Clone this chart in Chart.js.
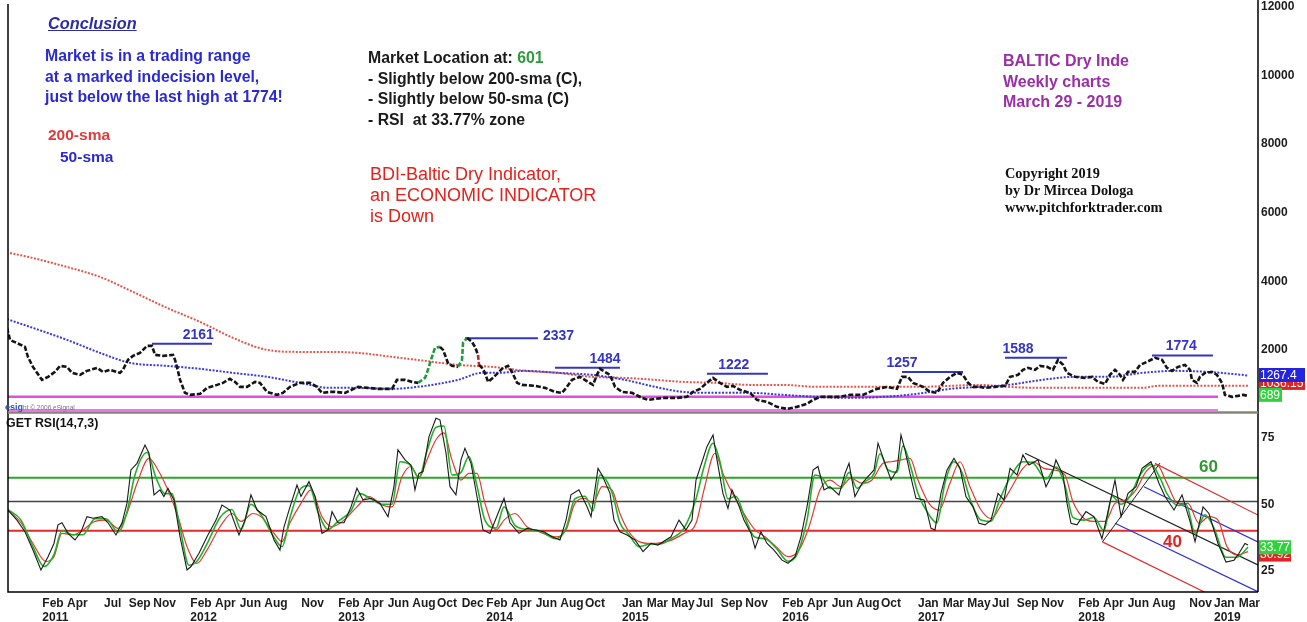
<!DOCTYPE html>
<html>
<head>
<meta charset="utf-8">
<script src="https://cdn.jsdelivr.net/npm/chart.js@4.4.1/dist/chart.umd.min.js"></script>
<style>
  html, body { margin: 0; padding: 0; background: #fff; }
  #wrap { position: relative; width: 1307px; height: 622px; overflow: hidden; background: #fff;
          font-family: "Liberation Sans", Arial, sans-serif; }
  canvas { position: absolute; left: 0; }
  #priceChart { top: 0; }
  #rsiChart { top: 414px; }
  .note { position: absolute; white-space: nowrap; font-weight: bold; font-size: 15.8px; line-height: 20.5px; pointer-events: none; }
</style>
</head>
<body>
<div id="wrap">
  <canvas id="priceChart" width="1307" height="414" style="width:1307px;height:414px"></canvas>
  <canvas id="rsiChart" width="1307" height="208" style="width:1307px;height:208px"></canvas>

  <div class="note" style="left:48px;top:13px;font-size:16.3px;font-style:italic;text-decoration:underline;color:#2c2ca6;line-height:20px;">Conclusion</div>
  <div class="note" style="left:45px;top:46px;color:#2a2ad2;">Market is in a trading range<br>at a marked indecision level,<br>just below the last high at 1774!</div>
  <div class="note" style="left:48px;top:125px;color:#e23a3a;line-height:20px;font-size:15.5px;">200-sma</div>
  <div class="note" style="left:60px;top:147px;color:#2a2ad2;line-height:20px;font-size:15.5px;">50-sma</div>
  <div class="note" style="left:368px;top:48px;color:#1a1a1a;">Market Location at: <span style="color:#2f9a3c">601</span><br>- Slightly below 200-sma (C),<br>- Slightly below 50-sma (C)<br>- RSI&nbsp; at 33.77% zone</div>
  <div class="note" style="left:370px;top:164px;color:#e4221c;font-weight:normal;font-size:18px;line-height:21px;">BDI-Baltic Dry Indicator,<br>an ECONOMIC INDICATOR<br>is Down</div>
  <div class="note" style="left:1003px;top:51px;color:#9a2fa6;font-size:16px;">BALTIC Dry Inde<br>Weekly charts<br>March 29 - 2019</div>
  <div class="note" style="left:1005px;top:165px;font-family:'Liberation Serif','Times New Roman',serif;color:#111;font-size:14.3px;line-height:17px;">Copyright 2019<br>by Dr Mircea Dologa<br>www.pitchforktrader.com</div>
  <div class="note" style="left:5px;top:399px;line-height:12px;"><span style="color:#2a5ab8;font-size:9px;">esig</span><span style="color:#777;font-size:6.5px;font-weight:normal;">ht &copy; 2006 eSignal</span></div>
  <div class="note" style="left:6px;top:415px;font-size:12.4px;line-height:16px;color:#111;">GET RSI(14,7,3)</div>
  <div class="note" style="left:1199px;top:457px;font-size:17px;line-height:20px;color:#2e9a2e;">60</div>
  <div class="note" style="left:1163px;top:532px;font-size:17px;line-height:20px;color:#e02424;">40</div>
</div>

<script>
document.addEventListener("DOMContentLoaded", function () {
	// --- time axis (decimal years) ---
	const X_MIN = 2010.8514;
	const X_MAX = 2019.2973;

	const MONTHS = ["Jan", "Feb", "Mar", "Apr", "May", "Jun", "Jul", "Aug", "Sep", "Oct", "Nov", "Dec"];
	// [year, month] of every label under the RSI panel
	const monthTicks = [
		[2011, 2], [2011, 4], [2011, 7], [2011, 9], [2011, 11],
		[2012, 2], [2012, 4], [2012, 6], [2012, 8], [2012, 11],
		[2013, 2], [2013, 4], [2013, 6], [2013, 8], [2013, 10], [2013, 12],
		[2014, 2], [2014, 4], [2014, 6], [2014, 8], [2014, 10],
		[2015, 1], [2015, 3], [2015, 5], [2015, 7], [2015, 9], [2015, 11],
		[2016, 2], [2016, 4], [2016, 6], [2016, 8], [2016, 10],
		[2017, 1], [2017, 3], [2017, 5], [2017, 7], [2017, 9], [2017, 11],
		[2018, 2], [2018, 4], [2018, 6], [2018, 8], [2018, 11],
		[2019, 1], [2019, 3],
	];
	const priceTicks = [2000, 4000, 6000, 8000, 10000, 12000];
	const rsiTicks = [25, 50, 75];

	// --- BDI weekly close [decimal year, value] ---
	const bdiClose = [
		[2010.845, 2641], [2010.865, 2291], [2010.966, 2087], [2010.986, 1796], [2011.020, 1504], [2011.081, 1125],
		[2011.122, 1213], [2011.169, 1358], [2011.203, 1533], [2011.250, 1504], [2011.284, 1329], [2011.338, 1271],
		[2011.385, 1388], [2011.453, 1475], [2011.493, 1358], [2011.541, 1417], [2011.608, 1329], [2011.628, 1417],
		[2011.662, 1708], [2011.696, 1825], [2011.743, 1912], [2011.791, 2116], [2011.824, 2116], [2011.845, 1854],
		[2011.899, 1825], [2011.966, 1854], [2011.980, 1708], [2011.993, 1504], [2012.014, 1125], [2012.047, 746],
		[2012.081, 688], [2012.149, 717], [2012.196, 892], [2012.264, 979], [2012.304, 1038], [2012.351, 1154],
		[2012.385, 1067], [2012.419, 921], [2012.466, 921], [2012.520, 1067], [2012.554, 1038], [2012.601, 775],
		[2012.669, 688], [2012.709, 746], [2012.757, 921], [2012.824, 1038], [2012.892, 1038], [2012.939, 921],
		[2012.973, 746], [2013.027, 775], [2013.061, 775], [2013.128, 746], [2013.216, 921], [2013.284, 892],
		[2013.351, 863], [2013.446, 863], [2013.480, 1125], [2013.534, 1125], [2013.581, 1067], [2013.622, 1038],
		[2013.669, 1183], [2013.682, 1329], [2013.703, 1621], [2013.736, 2058], [2013.770, 2087], [2013.791, 2000],
		[2013.824, 1621], [2013.851, 1533], [2013.892, 1504], [2013.919, 1708], [2013.926, 2204], [2013.953, 2350],
		[2013.986, 2233], [2014.007, 2087], [2014.027, 1854], [2014.034, 1562], [2014.054, 1475], [2014.074, 1329],
		[2014.095, 1067], [2014.128, 1183], [2014.162, 1329], [2014.196, 1475], [2014.230, 1533], [2014.257, 1358],
		[2014.291, 1038], [2014.324, 979], [2014.412, 950], [2014.480, 892], [2014.547, 775], [2014.595, 746],
		[2014.628, 921], [2014.662, 1125], [2014.716, 1213], [2014.770, 1067], [2014.804, 979], [2014.831, 1271],
		[2014.851, 1446], [2014.885, 1358], [2014.919, 1271], [2014.953, 921], [2015.000, 775], [2015.068, 746],
		[2015.135, 600], [2015.176, 542], [2015.223, 571], [2015.277, 600], [2015.372, 600], [2015.439, 630],
		[2015.480, 775], [2015.527, 863], [2015.574, 1038], [2015.615, 1183], [2015.662, 1038], [2015.709, 921],
		[2015.750, 950], [2015.797, 834], [2015.865, 746], [2015.912, 542], [2015.980, 484], [2016.047, 338],
		[2016.115, 280], [2016.182, 338], [2016.250, 426], [2016.291, 542], [2016.338, 630], [2016.405, 630],
		[2016.473, 630], [2016.541, 688], [2016.628, 688], [2016.723, 863], [2016.791, 921], [2016.858, 863],
		[2016.892, 1213], [2016.932, 1213], [2016.966, 1038], [2017.034, 921], [2017.081, 775], [2017.128, 746],
		[2017.169, 1038], [2017.216, 1213], [2017.264, 1329], [2017.304, 1271], [2017.338, 1038], [2017.372, 921],
		[2017.419, 921], [2017.453, 892], [2017.520, 921], [2017.588, 950], [2017.622, 1213], [2017.676, 1271],
		[2017.709, 1417], [2017.743, 1475], [2017.791, 1417], [2017.824, 1533], [2017.872, 1504], [2017.912, 1417],
		[2017.946, 1708], [2017.980, 1562], [2018.007, 1329], [2018.061, 1213], [2018.128, 1183], [2018.176, 1213],
		[2018.216, 1067], [2018.264, 1009], [2018.297, 1271], [2018.331, 1417], [2018.365, 1271], [2018.385, 1125],
		[2018.419, 1358], [2018.466, 1358], [2018.500, 1562], [2018.547, 1650], [2018.601, 1767], [2018.649, 1708],
		[2018.682, 1475], [2018.716, 1388], [2018.757, 1504], [2018.804, 1562], [2018.838, 1417], [2018.851, 1125],
		[2018.885, 1038], [2018.905, 1213], [2018.939, 1329], [2018.986, 1358], [2019.020, 1271], [2019.054, 1038],
		[2019.074, 688], [2019.122, 630], [2019.162, 659], [2019.196, 688], [2019.230, 659],
	];

	const sma50 = [
		[2010.845, 2896], [2011.020, 2641], [2011.250, 2291], [2011.473, 1912], [2011.676, 1621], [2011.926, 1533],
		[2012.149, 1446], [2012.372, 1329], [2012.601, 1213], [2012.824, 1038], [2013.027, 892], [2013.216, 892],
		[2013.446, 863], [2013.669, 950], [2013.892, 1125], [2014.054, 1329], [2014.162, 1329], [2014.345, 1388],
		[2014.568, 1329], [2014.797, 1271], [2015.020, 1125], [2015.223, 921], [2015.412, 775], [2015.642, 746],
		[2015.865, 746], [2016.088, 688], [2016.318, 630], [2016.541, 600], [2016.764, 630], [2016.993, 717],
		[2017.216, 863], [2017.419, 921], [2017.608, 979], [2017.838, 1125], [2018.061, 1213], [2018.284, 1213],
		[2018.514, 1329], [2018.736, 1388], [2018.959, 1358], [2019.189, 1271], [2019.230, 1250],
	];

	const sma200 = [
		[2010.865, 4824], [2011.020, 4678], [2011.250, 4416], [2011.473, 4128], [2011.696, 3690], [2011.926, 3224],
		[2012.149, 2816], [2012.372, 2350], [2012.601, 2000], [2012.824, 1941], [2013.027, 1941], [2013.216, 1912],
		[2013.446, 1796], [2013.669, 1679], [2013.892, 1562], [2014.122, 1504], [2014.345, 1388], [2014.568, 1329],
		[2014.797, 1213], [2015.020, 1183], [2015.223, 1125], [2015.412, 1067], [2015.642, 1038], [2015.865, 979],
		[2016.088, 979], [2016.318, 921], [2016.541, 921], [2016.764, 921], [2016.993, 921], [2017.216, 950],
		[2017.419, 979], [2017.608, 921], [2017.838, 892], [2018.061, 892], [2018.284, 892], [2018.514, 892],
		[2018.622, 950], [2018.959, 950], [2019.230, 950],
	];

	// marked highs: blue horizontal lines with their values
	const highTexts = ["2161", "2337", "1484", "1222", "1257", "1588", "1774"];
	const highLevels = [2175, 2341, 1475, 1300, 1358, 1767, 1834];
	const highStarts = [2011.824, 2013.939, 2014.547, 2015.574, 2016.892, 2017.588, 2018.581];
	const highEnds = [2012.230, 2014.432, 2014.986, 2015.986, 2017.304, 2018.007, 2018.993];

	// magenta support lines
	const supportLevels = [630, 250];
	const supportEnd = 2019.027;

	// right-hand value tags
	const priceTagValues = [1036, 1267.4, 689];
	const priceTagTexts = ["1036.15", "1267.4", "689"];

	// --- RSI panel ---
	const rsiLine = [
		[2010.851, 47.8], [2010.912, 44.0], [2010.966, 39.6], [2011.020, 32.7], [2011.074, 25.2], [2011.122, 30.2],
		[2011.162, 35.2], [2011.189, 42.2], [2011.216, 43.0], [2011.257, 39.0], [2011.304, 36.5], [2011.345, 39.6],
		[2011.385, 45.3], [2011.426, 44.7], [2011.486, 45.3], [2011.527, 43.0], [2011.581, 38.4], [2011.622, 43.0],
		[2011.655, 50.3], [2011.682, 62.9], [2011.723, 65.4], [2011.777, 72.3], [2011.804, 69.2], [2011.838, 53.5],
		[2011.878, 55.4], [2011.905, 52.9], [2011.932, 56.0], [2011.973, 51.6], [2012.014, 37.7], [2012.061, 25.2],
		[2012.088, 26.5], [2012.142, 31.5], [2012.196, 37.7], [2012.257, 44.0], [2012.297, 49.7], [2012.351, 47.8],
		[2012.412, 38.4], [2012.453, 44.0], [2012.493, 53.5], [2012.534, 47.8], [2012.595, 45.3], [2012.649, 36.5],
		[2012.689, 32.7], [2012.716, 41.4], [2012.757, 49.0], [2012.804, 57.2], [2012.831, 52.9], [2012.885, 58.5],
		[2012.926, 52.9], [2012.973, 39.0], [2013.014, 40.3], [2013.041, 47.2], [2013.081, 43.0], [2013.122, 43.0],
		[2013.169, 49.0], [2013.209, 56.0], [2013.250, 51.6], [2013.304, 52.2], [2013.365, 50.3], [2013.419, 45.3],
		[2013.459, 56.6], [2013.486, 70.5], [2013.534, 66.7], [2013.574, 64.8], [2013.601, 55.4], [2013.628, 61.6],
		[2013.655, 62.3], [2013.696, 75.5], [2013.743, 82.4], [2013.770, 81.8], [2013.811, 69.2], [2013.838, 56.6],
		[2013.878, 53.5], [2013.912, 66.7], [2013.939, 71.1], [2013.980, 65.4], [2014.020, 52.9], [2014.061, 40.3],
		[2014.108, 39.0], [2014.162, 46.5], [2014.203, 52.2], [2014.243, 43.0], [2014.304, 39.0], [2014.358, 40.9],
		[2014.412, 40.3], [2014.473, 39.6], [2014.527, 37.7], [2014.581, 36.5], [2014.622, 44.0], [2014.655, 53.5],
		[2014.709, 55.4], [2014.764, 49.0], [2014.791, 45.3], [2014.838, 63.5], [2014.865, 61.0], [2014.919, 54.1],
		[2014.946, 44.0], [2014.986, 39.6], [2015.034, 38.4], [2015.088, 36.5], [2015.142, 32.1], [2015.196, 35.2],
		[2015.243, 34.6], [2015.331, 37.7], [2015.385, 44.0], [2015.432, 40.3], [2015.473, 44.0], [2015.500, 59.1],
		[2015.541, 66.0], [2015.574, 71.7], [2015.615, 76.1], [2015.642, 66.7], [2015.682, 54.1], [2015.716, 48.4],
		[2015.743, 55.4], [2015.784, 50.3], [2015.824, 44.0], [2015.872, 39.0], [2015.899, 33.4], [2015.939, 39.6],
		[2015.980, 35.2], [2016.027, 32.7], [2016.081, 28.9], [2016.122, 27.7], [2016.169, 30.2], [2016.209, 37.7],
		[2016.250, 49.0], [2016.291, 62.9], [2016.324, 64.2], [2016.365, 55.4], [2016.405, 56.6], [2016.466, 53.5],
		[2016.507, 61.6], [2016.534, 65.4], [2016.574, 52.9], [2016.622, 57.9], [2016.662, 60.4], [2016.703, 62.9],
		[2016.730, 73.0], [2016.777, 65.4], [2016.818, 59.1], [2016.858, 62.9], [2016.885, 76.1], [2016.912, 70.5],
		[2016.946, 61.6], [2016.986, 52.2], [2017.041, 51.6], [2017.088, 40.9], [2017.115, 40.3], [2017.155, 54.1],
		[2017.196, 62.9], [2017.243, 67.3], [2017.284, 63.5], [2017.324, 52.9], [2017.372, 49.0], [2017.412, 42.8],
		[2017.453, 42.2], [2017.493, 44.0], [2017.541, 54.1], [2017.581, 51.6], [2017.622, 63.5], [2017.669, 61.0],
		[2017.709, 68.6], [2017.750, 64.8], [2017.811, 66.7], [2017.865, 56.6], [2017.905, 61.0], [2017.932, 66.7],
		[2017.980, 61.0], [2018.007, 50.3], [2018.034, 42.8], [2018.074, 42.2], [2018.135, 47.2], [2018.189, 45.3],
		[2018.243, 37.0], [2018.291, 49.0], [2018.331, 59.1], [2018.372, 45.3], [2018.419, 54.1], [2018.473, 56.6],
		[2018.514, 63.5], [2018.574, 66.0], [2018.628, 57.9], [2018.669, 52.9], [2018.730, 47.8], [2018.784, 53.5],
		[2018.838, 43.5], [2018.872, 35.9], [2018.926, 49.0], [2018.966, 46.5], [2019.027, 35.2], [2019.081, 28.2],
		[2019.135, 28.9], [2019.169, 31.5], [2019.209, 35.2], [2019.230, 34.6],
	];

	const rsiFast = [
		[2010.851, 48], [2010.939, 44], [2011.020, 34], [2011.095, 26.5], [2011.162, 31], [2011.216, 40],
		[2011.291, 38.5], [2011.358, 38.5], [2011.439, 44.5], [2011.514, 44.5], [2011.595, 39.5], [2011.655, 47],
		[2011.709, 61], [2011.791, 69.5], [2011.851, 60], [2011.912, 54], [2011.959, 54], [2012.014, 41],
		[2012.074, 27], [2012.128, 28.5], [2012.196, 35], [2012.284, 45], [2012.365, 48], [2012.426, 40.5],
		[2012.493, 50], [2012.561, 46], [2012.649, 37.5], [2012.703, 34], [2012.757, 45], [2012.818, 55],
		[2012.885, 57], [2012.946, 47], [2013.014, 40.5], [2013.081, 43.5], [2013.169, 47.5], [2013.230, 54],
		[2013.304, 52], [2013.378, 50], [2013.446, 50], [2013.500, 66], [2013.574, 64.5], [2013.628, 60],
		[2013.682, 70], [2013.743, 79], [2013.797, 79.5], [2013.851, 61], [2013.912, 62], [2013.966, 68],
		[2014.020, 57], [2014.074, 44], [2014.149, 41], [2014.203, 49], [2014.277, 42], [2014.358, 40.5],
		[2014.439, 40], [2014.554, 37], [2014.622, 41], [2014.682, 52], [2014.750, 53], [2014.804, 47.5],
		[2014.851, 61], [2014.932, 54.5], [2014.986, 43], [2015.047, 38.5], [2015.115, 34], [2015.196, 35],
		[2015.257, 35], [2015.331, 37], [2015.419, 41], [2015.500, 52], [2015.554, 64], [2015.615, 73],
		[2015.662, 66], [2015.716, 52], [2015.770, 53], [2015.824, 46], [2015.899, 37.5], [2015.966, 37],
		[2016.041, 33.5], [2016.122, 28.5], [2016.182, 31], [2016.250, 44], [2016.304, 61], [2016.351, 60],
		[2016.405, 56], [2016.480, 56], [2016.534, 62], [2016.588, 56], [2016.642, 58.5], [2016.703, 61.5],
		[2016.743, 69], [2016.797, 63], [2016.858, 62], [2016.899, 72], [2016.946, 65], [2017.000, 54],
		[2017.074, 46], [2017.128, 43], [2017.182, 58], [2017.243, 66], [2017.297, 62], [2017.351, 52],
		[2017.426, 44], [2017.493, 43.5], [2017.554, 52], [2017.622, 60], [2017.709, 66], [2017.777, 65.5],
		[2017.865, 59.5], [2017.932, 64], [2017.993, 57], [2018.047, 45], [2018.122, 44], [2018.189, 45],
		[2018.257, 40], [2018.311, 53], [2018.372, 50], [2018.432, 53], [2018.500, 61], [2018.574, 65],
		[2018.635, 60], [2018.682, 54], [2018.757, 49.5], [2018.811, 50], [2018.872, 39], [2018.939, 46],
		[2019.000, 41], [2019.081, 30], [2019.155, 30], [2019.230, 33.8],
	];

	const rsiSlow = [
		[2010.851, 47.8], [2010.939, 43.0], [2011.020, 35.2], [2011.108, 28.4], [2011.162, 30.2], [2011.216, 39.0],
		[2011.291, 38.4], [2011.358, 40.3], [2011.439, 43.5], [2011.514, 44.0], [2011.595, 40.9], [2011.655, 46.5],
		[2011.723, 57.8], [2011.804, 67.3], [2011.865, 62.9], [2011.946, 53.5], [2012.000, 45.3], [2012.061, 34.0],
		[2012.128, 27.7], [2012.196, 32.7], [2012.284, 41.5], [2012.365, 46.5], [2012.426, 43.5], [2012.507, 46.5],
		[2012.561, 45.3], [2012.649, 39.0], [2012.703, 35.9], [2012.757, 43.0], [2012.831, 50.3], [2012.899, 55.4],
		[2012.973, 45.3], [2013.041, 41.5], [2013.122, 44.0], [2013.209, 49.0], [2013.291, 52.9], [2013.378, 49.7],
		[2013.446, 49.0], [2013.514, 60.4], [2013.574, 64.2], [2013.628, 59.8], [2013.682, 66.7], [2013.743, 74.3],
		[2013.797, 76.9], [2013.851, 66.7], [2013.912, 59.1], [2013.966, 61.6], [2014.020, 61.6], [2014.074, 50.3],
		[2014.149, 40.3], [2014.203, 44.0], [2014.277, 46.5], [2014.358, 41.5], [2014.439, 39.6], [2014.554, 37.7],
		[2014.622, 40.3], [2014.682, 50.3], [2014.750, 52.2], [2014.804, 50.3], [2014.865, 56.6], [2014.932, 55.4],
		[2014.986, 46.5], [2015.047, 39.6], [2015.115, 35.9], [2015.196, 35.2], [2015.304, 35.9], [2015.419, 39.0],
		[2015.500, 42.8], [2015.554, 55.4], [2015.628, 69.2], [2015.682, 61.6], [2015.757, 52.9], [2015.824, 46.5],
		[2015.899, 40.3], [2015.966, 37.7], [2016.041, 34.0], [2016.122, 30.2], [2016.196, 32.7], [2016.264, 41.5],
		[2016.338, 55.4], [2016.405, 59.1], [2016.480, 56.6], [2016.547, 59.8], [2016.622, 57.9], [2016.689, 59.1],
		[2016.764, 65.4], [2016.818, 66.0], [2016.885, 66.7], [2016.946, 67.3], [2017.000, 59.1], [2017.074, 50.3],
		[2017.142, 47.8], [2017.216, 57.9], [2017.284, 66.0], [2017.351, 56.6], [2017.426, 47.8], [2017.493, 44.6],
		[2017.568, 50.3], [2017.635, 56.6], [2017.709, 63.5], [2017.777, 66.0], [2017.851, 63.5], [2017.919, 62.9],
		[2017.993, 61.0], [2018.047, 50.9], [2018.122, 44.6], [2018.189, 43.5], [2018.264, 43.5], [2018.331, 50.3],
		[2018.399, 51.6], [2018.473, 55.4], [2018.541, 62.3], [2018.615, 64.8], [2018.682, 57.9], [2018.757, 50.3],
		[2018.824, 50.3], [2018.899, 42.8], [2018.966, 45.3], [2019.027, 44.0], [2019.088, 34.0], [2019.155, 30.9],
		[2019.230, 32.1],
	];

	// RSI reference levels: 60 (green), 50 (black), 40 (red)
	const rsiLevels = [60, 51, 40];

	// pitchfork drawn on the RSI
	const forkMedian = [[2017.723, 69.2], [2019.297, 27.1]];
	const forkPivots = [[2018.246, 35.8], [2018.635, 65.5]];
	const forkUpperRed = [[2018.601, 65.4], [2019.297, 45.9]];
	const forkUpperBlue = [[2018.527, 56.6], [2019.297, 35.8]];
	const forkLowerBlue = [[2018.331, 42.8], [2019.297, 17.0]];
	const forkLowerRed = [[2018.246, 35.8], [2018.953, 16.4]];

	const rsiTagValues = [31.0, 33.77];
	const rsiTagTexts = ["30.92", "33.77"];

	// --- helpers ---
	const pts = (arr) => arr.map(([x, y]) => ({ x: x, y: y }));
	const flat = (v, x0, x1) => [{ x: x0, y: v }, { x: x1, y: v }];
	const tickValues = monthTicks.map(([yr, m]) => yr + (m - 1) / 12);
	const tickLabels = monthTicks.map(([yr, m], i) =>
		i === 0 || monthTicks[i - 1][0] !== yr ? [MONTHS[m - 1], String(yr)] : MONTHS[m - 1]
	);

	const FONT = '"Liberation Sans", Arial, sans-serif';
	Chart.defaults.font.family = FONT;
	Chart.defaults.animation = false;

	const LEVEL_BLUE = "#3434c6";
	// where the value sits along each high line (fraction), or to the right of it
	const highLabelPlace = [0.77, "right", 0.77, 0.44, 0.0, 0.21, 0.48];

	function drawTag(ctx, x, yc, text, bg, w) {
		ctx.fillStyle = bg;
		ctx.fillRect(x, yc - 7, w, 14);
		ctx.fillStyle = "#fff";
		ctx.font = "12px " + FONT;
		ctx.textAlign = "left";
		ctx.textBaseline = "middle";
		ctx.fillText(text, x + 1, yc + 0.5);
	}

	function fitRight(s) {
		s.width = 49;
		s.paddingTop = 0;
		s.paddingBottom = 0;
	}

	const yTickStyle = {
		padding: 3,
		color: "#1c1c1c",
		font: { size: 12, weight: "bold" },
		callback: (v) => String(v),
	};

	// --- price panel ---
	const pricePlugin = {
		id: "priceExtras",
		afterDraw(chart) {
			const { ctx, chartArea: a, scales } = chart;
			const x = scales.x, y = scales.y;
			ctx.save();
			ctx.font = "bold 14px " + FONT;
			ctx.fillStyle = LEVEL_BLUE;
			ctx.textBaseline = "middle";
			highTexts.forEach((txt, i) => {
				const xs = x.getPixelForValue(highStarts[i]);
				const xe = x.getPixelForValue(highEnds[i]);
				const yp = y.getPixelForValue(highLevels[i]);
				const place = highLabelPlace[i];
				if (place === "right") {
					ctx.textAlign = "left";
					ctx.fillText(txt, xe + 5, yp - 2);
				} else {
					ctx.textAlign = "center";
					ctx.fillText(txt, xs + place * (xe - xs), yp - 9);
				}
			});
			// frame
			ctx.strokeStyle = "#000";
			ctx.lineWidth = 1.5;
			ctx.beginPath();
			ctx.moveTo(a.left, 4);
			ctx.lineTo(a.left, a.bottom);
			ctx.moveTo(a.right, 0);
			ctx.lineTo(a.right, a.bottom);
			ctx.stroke();
			ctx.strokeStyle = "#85857a";
			ctx.lineWidth = 2.5;
			ctx.beginPath();
			ctx.moveTo(a.left, a.bottom - 1.5);
			ctx.lineTo(a.right, a.bottom - 1.5);
			ctx.stroke();
			// last-value tags
			const tagColors = ["#e02424", "#2424e0", "#2fd23a"];
			const tagWidths = [46, 46, 23];
			priceTagValues.forEach((v, i) => {
				drawTag(ctx, a.right + 1, y.getPixelForValue(v), priceTagTexts[i], tagColors[i], tagWidths[i]);
			});
			ctx.restore();
		},
	};

	const priceDatasets = [
		{
			data: pts(bdiClose),
			borderColor: "#141414",
			borderWidth: 2.6,
			borderDash: [5, 2],
			segment: {
				borderColor: (c) => {
					const x0 = c.p0.parsed.x, x1 = c.p1.parsed.x;
					if (x0 >= 2013.47 && x1 <= 2013.96 && c.p1.parsed.y > c.p0.parsed.y) return "#1e9b3c";
					if (x0 >= 2014.026 && x1 <= 2014.035) return "#c42a2a";
					return undefined;
				},
			},
		},
	];
	highLevels.forEach((lv, i) => {
		priceDatasets.push({ data: flat(lv, highStarts[i], highEnds[i]), borderColor: LEVEL_BLUE, borderWidth: 2 });
	});
	priceDatasets.push(
		{ data: pts(sma50), borderColor: "#3b3bd6", borderWidth: 2, borderDash: [2, 1.5], cubicInterpolationMode: "monotone" },
		{ data: pts(sma200), borderColor: "#e2574c", borderWidth: 2, borderDash: [2, 1.5], cubicInterpolationMode: "monotone" },
		{ data: flat(supportLevels[0], X_MIN, supportEnd), borderColor: "#df4fe0", borderWidth: 2.5 },
		{ data: flat(supportLevels[1], X_MIN, supportEnd), borderColor: "#df4fe0", borderWidth: 1.5 }
	);

	new Chart(document.getElementById("priceChart"), {
		type: "line",
		data: { datasets: priceDatasets },
		options: {
			responsive: false,
			devicePixelRatio: 1,
			events: [],
			layout: { padding: { left: 8, right: 0, top: 0, bottom: 0 } },
			elements: { point: { radius: 0 }, line: { fill: false, tension: 0 } },
			plugins: { legend: { display: false }, tooltip: { enabled: false } },
			scales: {
				x: { type: "linear", min: X_MIN, max: X_MAX, display: false },
				y: {
					position: "right",
					min: 130,
					max: 12200,
					grid: { display: false, drawTicks: false },
					border: { display: false },
					afterBuildTicks: (s) => { s.ticks = priceTicks.map((v) => ({ value: v })); },
					afterFit: fitRight,
					ticks: yTickStyle,
				},
			},
		},
		plugins: [pricePlugin],
	});

	// --- RSI panel ---
	const rsiPlugin = {
		id: "rsiExtras",
		afterDraw(chart) {
			const { ctx, chartArea: a, scales } = chart;
			const y = scales.y;
			ctx.save();
			ctx.strokeStyle = "#000";
			ctx.lineWidth = 1.5;
			ctx.beginPath();
			ctx.moveTo(a.left, a.top);
			ctx.lineTo(a.left, a.bottom);
			ctx.lineTo(a.right, a.bottom);
			ctx.moveTo(a.right, a.top);
			ctx.lineTo(a.right, a.bottom);
			ctx.stroke();
			const tagColors = ["#e02424", "#2fd23a"];
			const tagWidths = [32, 32];
			rsiTagValues.forEach((v, i) => {
				drawTag(ctx, a.right + 1, y.getPixelForValue(v), rsiTagTexts[i], tagColors[i], tagWidths[i]);
			});
			ctx.restore();
		},
	};

	const rsiDatasets = [
		{ data: pts(rsiLine), borderColor: "#1a1a1a", borderWidth: 1.1 },
		{ data: pts(rsiFast), borderColor: "#22b02a", borderWidth: 1.6, cubicInterpolationMode: "monotone" },
		{ data: pts(rsiSlow), borderColor: "#e23a30", borderWidth: 1.2, cubicInterpolationMode: "monotone" },
		{ data: pts(forkMedian), borderColor: "#202020", borderWidth: 1.2 },
		{ data: pts(forkPivots), borderColor: "#202020", borderWidth: 1 },
		{ data: pts(forkUpperRed), borderColor: "#e03030", borderWidth: 1.2 },
		{ data: pts(forkLowerRed), borderColor: "#e03030", borderWidth: 1.2 },
		{ data: pts(forkUpperBlue), borderColor: "#3030d0", borderWidth: 1.2 },
		{ data: pts(forkLowerBlue), borderColor: "#3030d0", borderWidth: 1.2 },
		{ data: flat(rsiLevels[0], X_MIN, X_MAX), borderColor: "#2aa72a", borderWidth: 2 },
		{ data: flat(rsiLevels[1], X_MIN, X_MAX), borderColor: "#444", borderWidth: 1.5 },
		{ data: flat(rsiLevels[2], X_MIN, X_MAX), borderColor: "#e02a2a", borderWidth: 2 },
	];

	new Chart(document.getElementById("rsiChart"), {
		type: "line",
		data: { datasets: rsiDatasets },
		options: {
			responsive: false,
			devicePixelRatio: 1,
			events: [],
			layout: { padding: { left: 8, right: 0, top: 0, bottom: 0 } },
			elements: { point: { radius: 0 }, line: { fill: false, tension: 0 } },
			plugins: { legend: { display: false }, tooltip: { enabled: false } },
			scales: {
				x: {
					type: "linear",
					min: X_MIN,
					max: X_MAX,
					position: "bottom",
					grid: { display: false, drawTicks: false },
					border: { display: false },
					afterBuildTicks: (s) => { s.ticks = tickValues.map((v) => ({ value: v })); },
					afterFit: (s) => { s.height = 30; s.paddingLeft = 0; s.paddingRight = 0; },
					ticks: {
						autoSkip: false,
						maxRotation: 0,
						minRotation: 0,
						align: "start",
						padding: 4,
						color: "#1c1c1c",
						font: { size: 12, weight: "bold" },
						callback: (v, i) => tickLabels[i],
					},
				},
				y: {
					position: "right",
					min: 16.9,
					max: 84.0,
					grid: { display: false, drawTicks: false },
					border: { display: false },
					afterBuildTicks: (s) => { s.ticks = rsiTicks.map((v) => ({ value: v })); },
					afterFit: fitRight,
					ticks: yTickStyle,
				},
			},
		},
		plugins: [rsiPlugin],
	});
});
</script>
</body>
</html>
